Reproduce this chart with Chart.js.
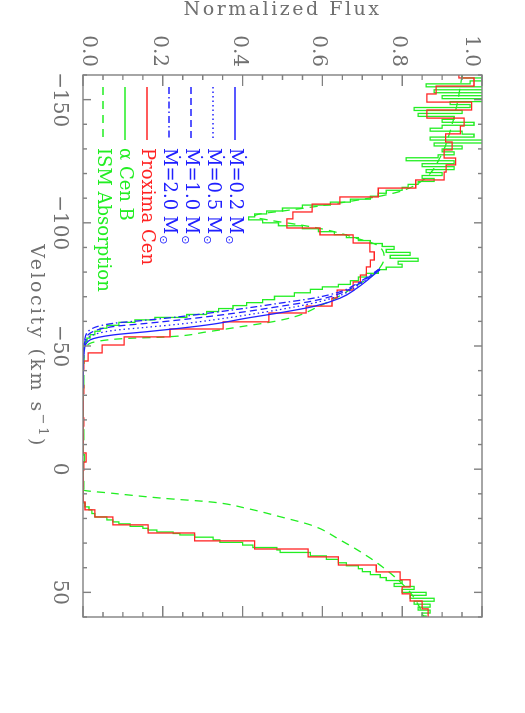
<!DOCTYPE html>
<html>
<head>
<meta charset="utf-8">
<script src="https://cdn.jsdelivr.net/npm/chart.js@4.4.1/dist/chart.umd.min.js"></script>
<style>
  html, body { margin: 0; padding: 0; background: #fff; overflow: hidden; }
  /* the plot is built landscape and turned a quarter clockwise, like the original page */
  #wrap { position: absolute; left: 0; top: 0; width: 713px; height: 525px;
          transform-origin: 0 0; transform: translateX(525px) rotate(90deg); }
</style>
</head>
<body>
<div id="wrap"><canvas id="c" width="713" height="525"></canvas></div>
<script>
// ── data (velocity in km/s, normalized flux) ─────────────────────────
// Proxima Cen histogram: left bin edges + flux
var proxV = [-160.0, -158.8, -155.5, -152.3, -149.0, -145.8, -142.5, -139.3, -136.1, -132.8,
  -129.6, -126.3, -123.5, -120.6, -117.4, -114.1, -110.5, -107.6, -104.4, -101.6,
  -97.9, -95.1, -91.8, -88.2, -84.9, -82.1, -78.8, -76.0, -72.7, -69.5,
  -66.2, -63.4, -59.8, -56.9, -53.7, -50.4, -47.2, -43.9, -40.6, -37.3,
  -34.0, -30.7, -27.4, -24.1, -20.8, -17.5, -14.2, -10.9, -6.6, -2.9,
  0.4, 3.7, 7.0, 10.2, 13.3, 16.5, 19.4, 22.6, 25.9, 29.1,
  32.4, 35.6, 38.9, 41.7, 44.9, 47.8, 50.6, 53.5, 56.7];
var proxF = [0.942, 0.98, 0.885, 0.862, 0.974, 0.862, 0.955, 0.946, 0.909, 0.925,
  0.905, 0.934, 0.91, 0.905, 0.834, 0.74, 0.644, 0.574, 0.526, 0.511,
  0.594, 0.677, 0.719, 0.73, 0.72, 0.71, 0.695, 0.677, 0.637, 0.624,
  0.559, 0.466, 0.351, 0.218, 0.103, 0.048, 0.013, 0.002, 0.001, 0.0,
  0.002, 0.0, 0.001, 0.0, 0.002, 0.0, 0.001, 0.0, 0.008, 0.002,
  0.0, 0.001, 0.0, 0.001, 0.005, 0.03, 0.075, 0.163, 0.28, 0.43,
  0.564, 0.64, 0.735, 0.795, 0.82, 0.80, 0.82, 0.85, 0.865];

// alpha Cen B histogram
var acenV = [-160.0, -158.8, -157.6, -156.4, -155.2, -154.0, -152.8, -151.6, -150.4, -149.2,
  -148.0, -146.8, -145.6, -144.4, -143.2, -142.0, -140.8, -139.6, -138.4, -137.2,
  -136.0, -134.8, -133.6, -132.4, -131.2, -130.0, -128.8, -127.6, -126.4, -125.2,
  -124.0, -122.8, -121.6, -120.4, -119.2, -118.0, -116.8, -115.6, -114.4, -113.2,
  -112.0, -110.8, -109.6, -108.4, -107.2, -106.0, -104.8, -103.6, -102.4, -101.2,
  -100.0, -98.8, -97.6, -96.4, -95.2, -94.0, -92.8, -91.6, -90.4, -89.2,
  -88.0, -86.8, -85.6, -84.4, -83.2, -82.0, -81.0, -79.5, -78.0, -76.5,
  -75.0, -74.0, -73.0, -71.6, -70.2, -68.8, -67.6, -66.4, -65.2, -64.0,
  -62.8, -61.6, -60.6, -59.6, -58.4, -57.2, -56.0, -54.6, -53.2, -51.8,
  -50.4, -49.0, -46.0, -43.0, -38.0, -33.0, -28.0, -22.0, -16.0, -12.0,
  -6.0, -3.0, 1.0, 5.0, 8.0, 13.7, 15.3, 16.5, 18.0, 19.4,
  20.6, 21.4, 22.2, 23.2, 24.0, 24.7, 25.5, 26.1, 26.7, 27.6,
  28.7, 29.7, 30.8, 31.8, 32.8, 33.8, 35.2, 36.6, 38.0, 39.2,
  40.4, 41.6, 42.8, 44.0, 45.2, 46.4, 47.6, 48.8, 50.0, 51.2,
  52.4, 53.6, 54.8, 56.0, 57.2, 58.4, 59.6];
var acenF = [0.95, 1.02, 0.97, 0.86, 1.02, 0.88, 1.02, 0.90, 1.01, 0.92,
  0.97, 0.83, 0.95, 0.84, 0.93, 0.90, 0.98, 0.90, 0.87, 0.95,
  0.98, 0.87, 1.02, 0.88, 0.95, 0.90, 0.93, 0.89, 0.81, 0.93,
  0.85, 0.93, 0.86, 0.90, 0.85, 0.88, 0.84, 0.815, 0.80, 0.76,
  0.74, 0.72, 0.67, 0.62, 0.55, 0.50, 0.46, 0.43, 0.415, 0.45,
  0.49, 0.55, 0.59, 0.63, 0.66, 0.69, 0.72, 0.75, 0.78, 0.76,
  0.82, 0.77, 0.84, 0.79, 0.80, 0.76, 0.74, 0.71, 0.69, 0.67,
  0.64, 0.60, 0.57, 0.53, 0.48, 0.45, 0.41, 0.376, 0.34, 0.31,
  0.26, 0.18, 0.13, 0.09, 0.06, 0.043, 0.03, 0.018, 0.01, 0.006,
  0.002, 0.0, 0.003, 0.0, 0.002, 0.0, 0.001, 0.0, 0.002, 0.0,
  0.004, 0.001, 0.0, 0.002, 0.0, 0.005, 0.015, 0.022, 0.03, 0.06,
  0.075, 0.09, 0.118, 0.15, 0.163, 0.185, 0.226, 0.243, 0.28, 0.326,
  0.343, 0.40, 0.426, 0.486, 0.494, 0.57, 0.61, 0.64, 0.66, 0.69,
  0.70, 0.72, 0.745, 0.76, 0.80, 0.78, 0.83, 0.80, 0.86, 0.82,
  0.88, 0.83, 0.87, 0.84, 0.87, 0.85, 0.86];

// ISM absorption profile (smooth)
var ismV = [-160, -150, -140, -130, -125, -120, -116, -113, -111, -109,
  -107, -105, -103.5, -102.5, -101, -99, -97.5, -95.5, -93.5, -91.5,
  -89, -86, -82, -78, -74, -70, -66, -61.9, -59.9, -57.9,
  -55.8, -53.6, -53.1, -51.8, -49.5, -46, 8.4, 9.8, 11.8, 13.4,
  15.9, 19.3, 23.0, 28.7, 34, 39, 45, 50, 55, 60];
var ismF = [0.95, 0.94, 0.925, 0.905, 0.89, 0.87, 0.84, 0.80, 0.75, 0.68,
  0.60, 0.51, 0.44, 0.43, 0.47, 0.55, 0.60, 0.65, 0.69, 0.73,
  0.75, 0.755, 0.745, 0.72, 0.68, 0.64, 0.59, 0.531, 0.477, 0.398,
  0.313, 0.2, 0.113, 0.034, 0.008, 0, 0, 0.075, 0.2, 0.326,
  0.41, 0.494, 0.577, 0.644, 0.70, 0.745, 0.79, 0.82, 0.84, 0.855];

// wind models: same flux levels, velocity per mass-loss rate
var modelF = [0.744, 0.686, 0.644, 0.577, 0.494, 0.41, 0.327, 0.243, 0.16, 0.076, 0.018, 0.004, 0.001, 0];
var mdot02V = [-80.9, -73.4, -69.4, -66.0, -63.5, -61.3, -58.9, -57.2, -55.8, -54.5, -52.5, -49.0, -44.0, -33];
var mdot05V = [-81.0, -74.2, -70.5, -67.4, -64.8, -62.6, -60.6, -58.9, -57.6, -56.3, -53.9, -50.0, -44.5, -33];
var mdot10V = [-81.2, -74.8, -71.3, -68.3, -66.1, -64.0, -62.2, -60.6, -59.2, -57.9, -55.2, -51.0, -45.0, -33];
var mdot20V = [-81.4, -75.3, -72.0, -69.4, -67.4, -65.4, -63.6, -61.9, -60.5, -59.2, -56.6, -52.0, -45.5, -33];

var velTicks = [-150, -100, -50, 0, 50];
var fluxTicks = [0, 0.2, 0.4, 0.6, 0.8, 1.0];
var velRange = [-160, 60];
var fluxRange = [0, 1];

// ── styles ───────────────────────────────────────────────────────────
var BLUE = '#2020ff', RED = '#ff2424', GREEN = '#22ee22';
var AXIS = '#808080', TEXT = '#707070';
var FONT = '"DejaVu Serif", serif';

function pts(xs, ys, xEnd) {
  var out = xs.map(function (x, i) { return { x: x, y: ys[i] }; });
  if (xEnd !== undefined) out.push({ x: xEnd, y: ys[ys.length - 1] });
  return out;
}
function model(label, xs, dash) {
  return { label: label, data: pts(xs, modelF), borderColor: BLUE, borderWidth: 1.3,
    borderDash: dash, cubicInterpolationMode: 'monotone', pointRadius: 0, order: 0 };
}

// box + inward ticks on all four sides, flux labels kept inside the box span
var framePlugin = {
  id: 'frame',
  afterDatasetsDraw: function (chart) {
    var ctx = chart.ctx, a = chart.chartArea, xs = chart.scales.x, ys = chart.scales.y;
    ctx.save();
    ctx.strokeStyle = AXIS; ctx.lineWidth = 1.4;
    ctx.strokeRect(a.left, a.top, a.right - a.left, a.bottom - a.top);
    ctx.beginPath();
    for (var v = velRange[0]; v <= velRange[1] + 1e-6; v += 10) {
      var px = xs.getPixelForValue(v);
      var len = velTicks.indexOf(Math.round(v)) >= 0 ? 8 : 4;
      ctx.moveTo(px, a.bottom); ctx.lineTo(px, a.bottom - len);
      ctx.moveTo(px, a.top); ctx.lineTo(px, a.top + len);
    }
    for (var i = 0; i <= 20; i++) {
      var py = ys.getPixelForValue(i * 0.05);
      var l2 = i % 4 === 0 ? 11 : 5;
      ctx.moveTo(a.left, py); ctx.lineTo(a.left + l2, py);
      ctx.moveTo(a.right, py); ctx.lineTo(a.right - l2, py);
    }
    ctx.stroke();

    ctx.fillStyle = TEXT;
    ctx.font = '20px ' + FONT;
    ctx.textAlign = 'right'; ctx.textBaseline = 'middle';
    fluxTicks.forEach(function (f) {
      var y = Math.min(Math.max(ys.getPixelForValue(f) + 3.8, a.top + 10.8), a.bottom - 5.2);
      ctx.fillText(f.toFixed(1), a.left - 8, y);
    });
    ctx.restore();
  },
  afterDraw: function (chart) {
    var ctx = chart.ctx, a = chart.chartArea;
    ctx.save();
    ctx.fillStyle = TEXT;
    ctx.letterSpacing = '2.5px';
    // velocity title (bottom of the landscape page)
    var p1 = 'Velocity (km s', p2 = '\u22121', p3 = ')';
    ctx.font = '19px ' + FONT; var w1 = ctx.measureText(p1).width, w3 = ctx.measureText(p3).width;
    ctx.font = '13px ' + FONT; var w2 = ctx.measureText(p2).width;
    var x0 = (a.left + a.right) / 2 - (w1 + w2 + w3) / 2, by = 494;
    ctx.font = '19px ' + FONT; ctx.fillText(p1, x0, by);
    ctx.font = '13px ' + FONT; ctx.fillText(p2, x0 + w1, by - 8);
    ctx.font = '19px ' + FONT; ctx.fillText(p3, x0 + w1 + w2, by);
    // flux title (left of the landscape page)
    ctx.translate(15, (a.top + a.bottom) / 2);
    ctx.rotate(-Math.PI / 2);
    ctx.textAlign = 'center';
    ctx.fillText('Normalized Flux', 0, 0);
    ctx.restore();

    // legend inside the plot
    chart.data.datasets.forEach(function (ds, i) {
      var y = 290 + i * 22;
      ctx.save();
      ctx.strokeStyle = ds.borderColor; ctx.lineWidth = ds.borderWidth;
      ctx.setLineDash(ds.borderDash || []);
      ctx.beginPath(); ctx.moveTo(87, y); ctx.lineTo(140, y); ctx.stroke();
      ctx.setLineDash([]);
      ctx.fillStyle = ds.borderColor;
      ctx.font = '18px ' + FONT;
      var txt = ds.label, sun = txt.slice(-1) === '\u2299';
      if (sun) txt = txt.slice(0, -1);
      ctx.fillText(txt, 148, y + 5);
      if (sun) {
        var w = ctx.measureText(txt).width;
        ctx.font = '11px "DejaVu Sans"';
        ctx.fillText('\u2299', 149 + w, y + 9);
      }
      ctx.restore();
    });
  }
};

new Chart(document.getElementById('c'), {
  type: 'line',
  data: {
    datasets: [
      model('\u1E40=0.2 M\u2299', mdot02V, []),
      model('\u1E40=0.5 M\u2299', mdot05V, [1.5, 3]),
      model('\u1E40=1.0 M\u2299', mdot10V, [7, 4]),
      model('\u1E40=2.0 M\u2299', mdot20V, [7, 3, 1.5, 3]),
      { label: 'Proxima Cen', data: pts(proxV, proxF, velRange[1]), borderColor: RED,
        borderWidth: 1.3, stepped: true, pointRadius: 0, order: 4 },
      { label: '\u03B1 Cen B', data: pts(acenV, acenF, velRange[1]), borderColor: GREEN,
        borderWidth: 1.3, stepped: true, pointRadius: 0, order: 5 },
      { label: 'ISM Absorption', data: pts(ismV, ismF), borderColor: GREEN, borderWidth: 1.3,
        borderDash: [8, 6], cubicInterpolationMode: 'monotone', pointRadius: 0, order: 6 }
    ]
  },
  options: {
    responsive: false,
    animation: false,
    events: [],
    layout: { padding: { top: 43, right: 96, bottom: 0, left: 0 } },
    plugins: { legend: { display: false }, tooltip: { enabled: false } },
    scales: {
      x: {
        type: 'linear', min: velRange[0], max: velRange[1],
        afterBuildTicks: function (s) { s.ticks = velTicks.map(function (v) { return { value: v }; }); },
        afterFit: function (s) { s.height = 83; },
        grid: { display: false, drawTicks: false },
        border: { display: false },
        ticks: { color: TEXT, font: { family: FONT, size: 20 }, padding: 12, maxRotation: 0, autoSkip: false,
          callback: function (v) { return v < 0 ? '\u2212' + Math.abs(v) : String(v); } }
      },
      y: {
        type: 'linear', min: fluxRange[0], max: fluxRange[1],
        afterBuildTicks: function (s) { s.ticks = fluxTicks.map(function (v) { return { value: v }; }); },
        afterFit: function (s) { s.width = 75; },
        grid: { display: false, drawTicks: false },
        border: { display: false },
        ticks: { display: false }
      }
    }
  },
  plugins: [framePlugin]
});
</script>
</body>
</html>
